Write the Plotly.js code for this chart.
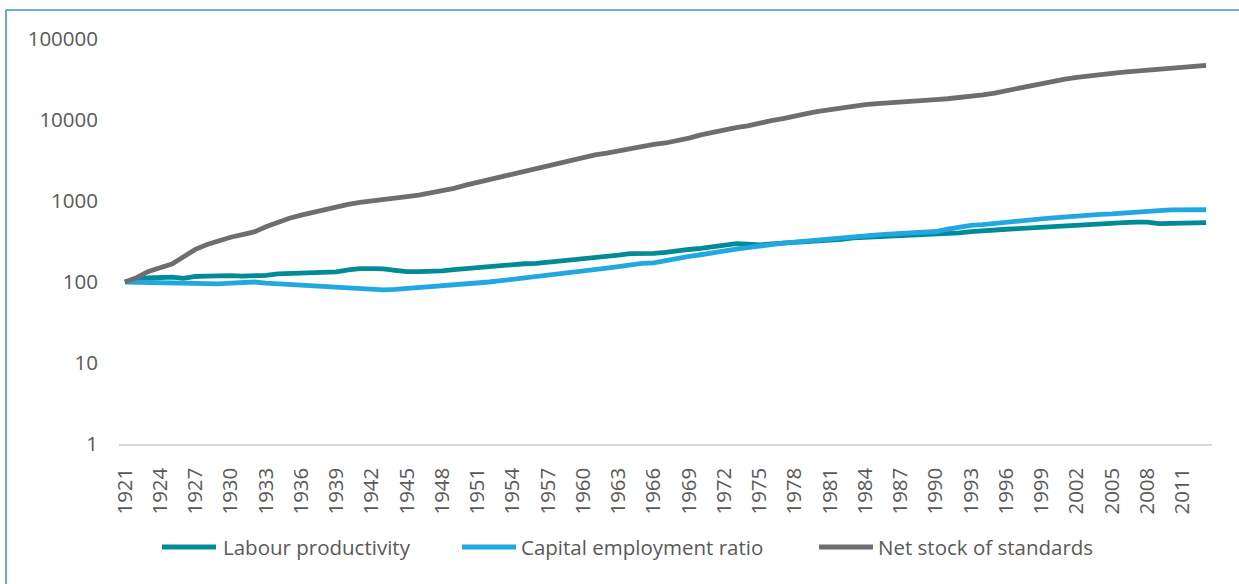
<!DOCTYPE html>
<html>
<head>
<meta charset="utf-8">
<script src="https://cdn.plot.ly/plotly-3.0.1.min.js"></script>
<style>
  html, body { margin: 0; padding: 0; background: #ffffff; overflow: hidden; }
  #chart { position: absolute; left: 0; top: 0; width: 1239px; height: 584px; }
</style>
</head>
<body>
<div id="chart"></div>
<script>
// ---- data ----
var firstYear = 1921, lastYear = 2013;
var years = [];
for (var yr = firstYear; yr <= lastYear; yr++) years.push(yr);

var seriesNames = ["Labour productivity", "Capital employment ratio", "Net stock of standards"];
var seriesColors = ["#008b96", "#22a8e0", "#6d6e71"];

var labourProductivity = [
  100, 108, 112, 113, 115, 111, 117, 118, 121, 120,
  118, 118, 121, 126, 128, 130, 130, 130, 133, 141,
  146, 146, 145, 139, 134, 134, 134, 137, 142, 146,
  149, 153, 162, 167, 168, 170, 175, 180, 187, 196,
  200, 203, 214, 224, 224, 226, 232, 245, 252, 260,
  270, 283, 298, 293, 287, 295, 302, 310, 313, 315,
  322, 335, 350, 355, 362, 370, 378, 382, 385, 388,
  395, 405, 418, 432, 440, 448, 455, 462, 470, 480,
  490, 500, 510, 520, 530, 540, 550, 548, 525, 530,
  538, 540, 540
];

var capitalEmploymentRatio = [
  100, 99, 98, 97.5, 97, 96, 94, 94, 95, 97,
  100, 100, 97, 95, 93, 92, 91, 89, 88, 85,
  82, 81, 80, 81, 83, 86, 87, 89, 91, 93,
  96, 100, 104, 108, 110, 114, 119, 126, 131, 136,
  142, 148, 155, 163, 170, 172, 185, 197, 207, 217,
  230, 245, 255, 265, 280, 290, 302, 312, 320, 325,
  340, 355, 368, 375, 382, 390, 395, 400, 408, 420,
  450, 478, 500, 512, 525, 540, 555, 580, 600, 620,
  640, 655, 670, 685, 695, 705, 720, 740, 760, 775,
  785, 790, 780
];

var netStockOfStandards = [
  100, 113, 135, 150, 167, 205, 253, 290, 325, 357,
  385, 415, 480, 550, 612, 670, 729, 789, 849, 910,
  962, 1010, 1055, 1090, 1130, 1185, 1260, 1340, 1435, 1570,
  1700, 1860, 2030, 2185, 2357, 2570, 2775, 2960, 3200, 3430,
  3710, 3900, 4150, 4500, 4800, 5000, 5200, 5500, 5970, 6550,
  7050, 7540, 8030, 8470, 9200, 9800, 10400, 11000, 12000, 12800,
  13500, 14400, 14900, 15500, 15900, 16200, 16450, 16700, 17200, 17800,
  18300, 18800, 19500, 20400, 21500, 23000, 24800, 27000, 28500, 30500,
  32000, 33500, 35100, 36700, 37700, 38900, 40100, 41300, 42300, 43500,
  44600, 46000, 47300
];

var xTickYears = [1921, 1924, 1927, 1930, 1933, 1936, 1939, 1942, 1945, 1948, 1951, 1954,
  1957, 1960, 1963, 1966, 1969, 1972, 1975, 1978, 1981, 1984, 1987, 1990, 1993, 1996,
  1999, 2002, 2005, 2008, 2011];
var yTickValues = [1, 10, 100, 1000, 10000, 100000];
var yTickLabels = ["1", "10", "100", "1000", "10000", "100000"];

// ---- chart ----
var allSeries = [labourProductivity, capitalEmploymentRatio, netStockOfStandards];
var traces = allSeries.map(function (vals, i) {
  return {
    type: "scatter", mode: "lines", x: years, y: vals, name: seriesNames[i],
    line: { color: seriesColors[i], width: 4.8 },
    showlegend: false, hoverinfo: "skip"
  };
});

var FONT = "'Open Sans', 'Liberation Sans', sans-serif";
var TXT = "#595959";

var plotL = 119, plotW = 1093, plotT = 39, plotH = 405;
function px2x(p) { return (p - plotL) / plotW; }
function py2y(p) { return (plotT + plotH - p) / plotH; }

var shapes = [], annotations = [];

// outer chart frame (left and top edges visible in the picture)
var frameColor = "#3a9eaa";
shapes.push({ type: "line", xref: "paper", yref: "paper", layer: "above",
  x0: px2x(6), x1: px2x(6), y0: py2y(10), y1: py2y(600), line: { color: frameColor, width: 1.6 } });
shapes.push({ type: "line", xref: "paper", yref: "paper", layer: "above",
  x0: px2x(6), x1: px2x(1245), y0: py2y(10), y1: py2y(10), line: { color: frameColor, width: 1.6 } });

// custom legend (Excel-style long line samples)
var legendLines = [[162, 216, 221], [462, 516, 519], [819, 873, 876]];
var legendY = 547;
legendLines.forEach(function (pos, i) {
  shapes.push({ type: "line", xref: "paper", yref: "paper",
    x0: px2x(pos[0]), x1: px2x(pos[1]), y0: py2y(legendY), y1: py2y(legendY),
    line: { color: seriesColors[i], width: 5 } });
  annotations.push({ xref: "paper", yref: "paper", x: px2x(pos[2]), y: py2y(legendY),
    xanchor: "left", yanchor: "middle", showarrow: false, text: seriesNames[i],
    font: { family: FONT, size: 20.5, color: TXT } });
});

var layout = {
  width: 1239, height: 584,
  margin: { l: plotL, r: 1239 - plotL - plotW, t: plotT, b: 584 - plotT - plotH, pad: 0 },
  paper_bgcolor: "#ffffff", plot_bgcolor: "#ffffff",
  font: { family: FONT, color: TXT, size: 20 },
  xaxis: {
    range: [firstYear - 0.5, lastYear + 0.5],
    tickmode: "array", tickvals: xTickYears, ticktext: xTickYears.map(String),
    tickangle: -90, ticks: "", ticklabelstandoff: 14,
    showgrid: false, zeroline: false,
    showline: true, linecolor: "#d9d9d9", linewidth: 1.5,
    tickfont: { family: FONT, size: 20.5, color: TXT }
  },
  yaxis: {
    type: "log", range: [0, 5],
    tickmode: "array", tickvals: yTickValues, ticktext: yTickLabels,
    ticks: "", ticklabelstandoff: 20,
    showgrid: false, zeroline: false, showline: false,
    tickfont: { family: FONT, size: 20.5, color: TXT }
  },
  shapes: shapes,
  annotations: annotations,
  showlegend: false
};

Plotly.newPlot("chart", traces, layout, { displayModeBar: false, staticPlot: true });
</script>
</body>
</html>
